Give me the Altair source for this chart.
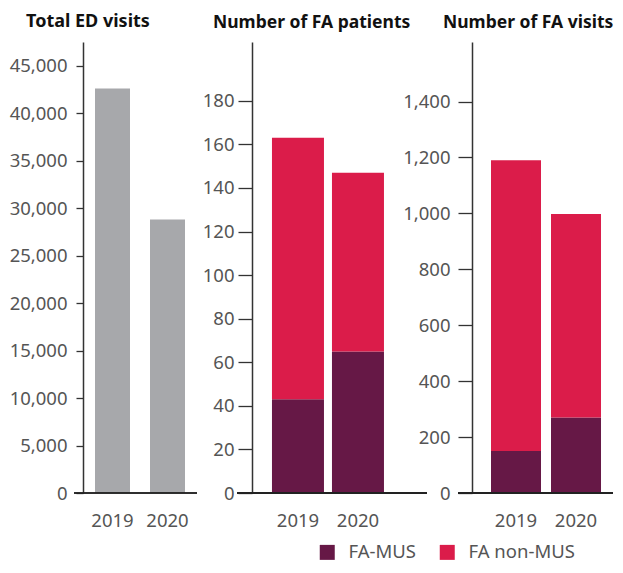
import altair as alt
import pandas as pd

years = ["2019", "2020"]
ed_visits = [42600, 28800]
patients_mus = [43, 65]
patients_non = [120, 82]
visits_mus = [150, 270]
visits_non = [1040, 728]
groups = ["FA-MUS", "FA non-MUS"]
colors = ["#661846", "#DB1C4A"]
gray = "#A7A8AB"

FONT = "Noto Sans"
LBL = 18.5
LCOL = "#555555"

df1 = pd.DataFrame({"year": years, "value": ed_visits})

def stacked(mus, non):
    rows = []
    for i, y in enumerate(years):
        rows.append({"year": y, "group": groups[0], "ord": 0, "value": mus[i]})
        rows.append({"year": y, "group": groups[1], "ord": 1, "value": non[i]})
    return pd.DataFrame(rows)

df2 = stacked(patients_mus, patients_non)
df3 = stacked(visits_mus, visits_non)

def xaxis():
    return alt.Axis(title=None, labelAngle=0, ticks=False, domain=False,
                    labelPadding=18, labelFontSize=LBL, labelFont=FONT,
                    labelColor=LCOL, grid=False)

def yaxis(vals, tick, pad, fmt):
    return alt.Axis(title=None, values=vals, tickSize=tick, labelPadding=pad,
                    format=fmt, labelFontSize=LBL, labelFont=FONT,
                    labelColor=LCOL, domainColor="#333333", tickColor="#333333",
                    domainWidth=1.5, tickWidth=1.3, grid=False)

def title(text, dx, size=17.5):
    return alt.TitleParams(text=text, anchor="start", frame="group", dx=dx,
                           fontSize=size, font=FONT, fontWeight="bold",
                           color="#111111", offset=11)

def baseline(left, right):
    return alt.Chart().mark_rule(color="#222222", strokeWidth=1.5).encode(
        x=alt.value(left), x2=alt.value(right), y=alt.datum(0))

# Panel 1
w1 = 124
bars1 = alt.Chart().mark_bar(color=gray).encode(
    x=alt.X("year:N", axis=xaxis(),
            scale=alt.Scale(paddingInner=0.3636, paddingOuter=0.309, align=0.353)),
    y=alt.Y("value:Q", scale=alt.Scale(domain=[0, 47500], nice=False),
            axis=yaxis(list(range(0, 45001, 5000)), 7, 9, ",d")),
)
p1 = alt.layer(bars1, baseline(-9, 114), data=df1).properties(
    width=w1, height=451, title=title("Total ED visits", -57, 18))

# Panel 2
w2 = 175
bars2 = alt.Chart().mark_bar().encode(
    x=alt.X("year:N", axis=xaxis(),
            scale=alt.Scale(paddingInner=0.1333, paddingOuter=0.525, align=0.317)),
    y=alt.Y("value:Q", stack="zero", scale=alt.Scale(domain=[0, 207], nice=False),
            axis=yaxis(list(range(0, 181, 20)), 14, 4, "d")),
    color=alt.Color("group:N", scale=alt.Scale(domain=groups, range=colors),
                    legend=alt.Legend(title=None, orient="none", direction="horizontal",
                                      legendX=235, legendY=501, symbolType="square",
                                      symbolSize=225, symbolStrokeWidth=0,
                                      labelFontSize=LBL, labelFont=FONT,
                                      labelColor=LCOL, labelOffset=12,
                                      columnPadding=22, padding=0)),
    order=alt.Order("ord:Q", sort="ascending"),
)
p2 = alt.layer(bars2, baseline(-15, 175), data=df2).properties(
    width=w2, height=451, title=title("Number of FA patients", -39))

# Panel 3
w3 = 141
bars3 = alt.Chart().mark_bar().encode(
    x=alt.X("year:N", axis=xaxis(),
            scale=alt.Scale(paddingInner=0.1667, paddingOuter=0.2583, align=0.613)),
    y=alt.Y("value:Q", stack="zero", scale=alt.Scale(domain=[0, 1613], nice=False),
            axis=yaxis(list(range(0, 1401, 200)), 14, 8, ",d")),
    color=alt.Color("group:N", scale=alt.Scale(domain=groups, range=colors)),
    order=alt.Order("ord:Q", sort="ascending"),
)
p3 = alt.layer(bars3, baseline(-14, 141), data=df3).properties(
    width=w3, height=451, title=title("Number of FA visits", -29))

chart = alt.hconcat(p1, p2, p3, spacing=45, bounds="flush").properties(
    padding={"left": 1, "top": 5, "right": 0, "bottom": 0}
).configure_view(stroke=None).configure_concat(spacing=45)

chart.save("out.html", embed_options={"renderer": "svg", "actions": False})
